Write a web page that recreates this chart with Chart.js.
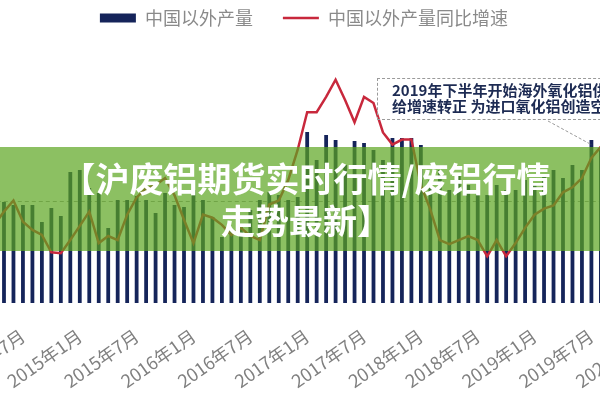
<!DOCTYPE html>
<html>
<head>
<meta charset="utf-8">
<script src="https://cdn.jsdelivr.net/npm/chart.js@4.4.1/dist/chart.umd.min.js"></script>
<style>
html,body{margin:0;padding:0;background:#fff;}
#wrap{position:relative;width:600px;height:400px;overflow:hidden;background:#fff;font-family:"Noto Sans CJK SC","Noto Sans",sans-serif;}
#c{position:absolute;left:-60px;top:0;}
#note{position:absolute;left:377px;top:78px;width:400px;height:42px;box-sizing:border-box;border:1px dashed #9a9a9a;}
#noteText{position:absolute;left:392px;top:82px;font-weight:bold;font-size:15px;line-height:16px;color:#1d2b53;white-space:nowrap;}
#arrow{position:absolute;left:0;top:0;}
#banner{position:absolute;left:0;top:147px;width:600px;height:104px;background:rgba(91,165,31,0.7);}
#bannerText{position:absolute;left:12px;top:157px;width:588px;text-align:center;color:#fff;font-weight:bold;font-size:34px;line-height:42px;white-space:nowrap;}
</style>
</head>
<body>
<div id="wrap">
<canvas id="c" width="713" height="400"></canvas>
<div id="note"></div>
<svg id="arrow" width="600" height="400"><line x1="548" y1="121" x2="592" y2="145" stroke="#9a9a9a" stroke-width="1" stroke-dasharray="3,2"/></svg>
<div id="noteText">2019年下半年开始海外氧化铝供<br>给增速转正 为进口氧化铝创造空间</div>
<div id="banner"></div>
<div id="bannerText">【沪废铝期货实时行情/废铝行情<br>走势最新】</div>
</div>
<script>
const categories = [
 '2014年4月','2014年5月','2014年6月','2014年7月','2014年8月','2014年9月','2014年10月','2014年11月','2014年12月',
 '2015年1月','2015年2月','2015年3月','2015年4月','2015年5月','2015年6月','2015年7月','2015年8月','2015年9月','2015年10月','2015年11月','2015年12月',
 '2016年1月','2016年2月','2016年3月','2016年4月','2016年5月','2016年6月','2016年7月','2016年8月','2016年9月','2016年10月','2016年11月','2016年12月',
 '2017年1月','2017年2月','2017年3月','2017年4月','2017年5月','2017年6月','2017年7月','2017年8月','2017年9月','2017年10月','2017年11月','2017年12月',
 '2018年1月','2018年2月','2018年3月','2018年4月','2018年5月','2018年6月','2018年7月','2018年8月','2018年9月','2018年10月','2018年11月','2018年12月',
 '2019年1月','2019年2月','2019年3月','2019年4月','2019年5月','2019年6月','2019年7月','2019年8月','2019年9月','2019年10月','2019年11月','2019年12月',
 '2020年1月'
];
// 中国以外产量 (万吨)
const outputValues = [
 500.0,500.2,499.6,499.6,499.6,496.2,499.0,497.4,506.2,
 506.6,503.0,502.0,495.0,500.6,500.6,501.4,500.6,498.0,502.0,499.6,499.2,
 502.6,500.6,497.2,493.2,494.6,495.8,498.6,500.6,502.2,501.6,500.6,501.2,
 514.2,508.6,513.6,512.6,507.6,512.4,512.0,510.6,508.6,513.0,513.0,513.0,
 511.6,504.6,506.6,502.6,505.6,503.6,502.6,501.6,503.6,502.6,502.6,504.6,
 503.6,505.6,506.6,505.0,507.6,506.6,512.6,510.6,null,null,null,null,
 null
];
// 中国以外产量同比增速 (%)
const growthValues = [
 -2.3,-1.0,0.1,-2.0,-2.8,-3.3,-5.0,-5.1,-3.8,
 -2.4,-1.0,-4.1,-3.4,-3.8,-1.3,0.4,1.3,1.6,2.3,0.6,-1.8,
 -4.1,-1.3,-1.6,-2.3,-3.3,-2.6,-3.4,-3.8,-0.3,0.1,2.1,5.1,
 8.8,8.8,10.3,12.0,10.0,7.8,10.3,9.7,6.8,5.6,6.1,6.1,
 1.6,-0.8,-3.8,-4.2,-3.8,-3.4,-3.8,-5.4,-3.8,-5.4,-4.1,-2.6,
 -1.3,-0.7,-0.4,0.9,1.4,2.3,4.3,5.4,6.1,null,null,null,
 null
];
const seriesNames = ['中国以外产量','中国以外产量同比增速'];

const FONT = '"Noto Sans CJK SC","Noto Sans",sans-serif';
new Chart(document.getElementById('c'), {
  data: {
    labels: categories,
    datasets: [
      {type:'bar', label: seriesNames[0], data: outputValues, backgroundColor:'#15245a', borderWidth:0,
       barPercentage:0.4, categoryPercentage:1, yAxisID:'y', order:1, pointStyle:'rect'},
      {type:'line', label: seriesNames[1], data: growthValues, borderColor:'#c8283c', backgroundColor:'#c8283c',
       borderWidth:2.5, pointRadius:0, tension:0, yAxisID:'y2', order:0, pointStyle:'line'}
    ]
  },
  options: {
    responsive:false, animation:false, devicePixelRatio:1,
    layout:{padding:{left:14.78,right:0,top:-21,bottom:0}},
    plugins:{
      tooltip:{enabled:false},
      legend:{position:'top', labels:{usePointStyle:true, pointStyleWidth:36, boxHeight:9, padding:30,
        sort:(a,b)=>a.datasetIndex-b.datasetIndex,
        color:'#8a8a8a', font:{family:FONT, size:18}}}
    },
    scales:{
      x:{offset:true, grid:{display:false, drawTicks:false}, border:{display:false},
         ticks:{autoSkip:false, minRotation:35, maxRotation:35, padding:22, color:'#808080', font:{family:FONT,size:18},
           callback:function(v){const l=this.getLabelForValue(v); return (/年(1|7)月$/.test(l))?l:'';}},
         afterFit:(s)=>{s.height=97; s.paddingLeft=0; s.paddingRight=0;}},
      y:{position:'left', min:480, max:533.2, grid:{display:false, drawTicks:false}, border:{display:false},
         ticks:{display:false}, afterFit:(s)=>{s.width=35;}},
      y2:{position:'right', min:-10, max:16.2, grid:{drawTicks:false, lineWidth:1,
           color:(ctx)=> (ctx.tick && ctx.tick.value===0) ? '#a0a0a0' : 'rgba(0,0,0,0)'},
         border:{display:false, dash:[4,3]}, ticks:{display:false, stepSize:2}, afterFit:(s)=>{s.width=0;}}
    }
  }
});
</script>
</body>
</html>
